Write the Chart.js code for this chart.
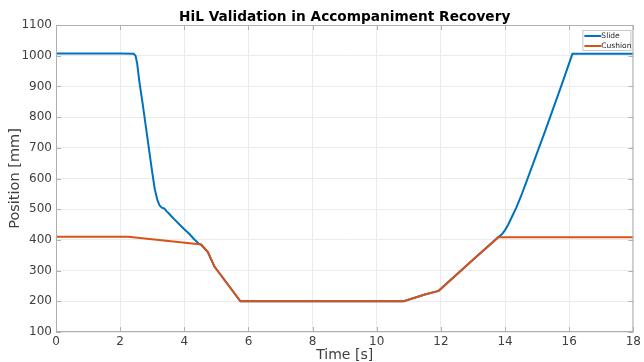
<!DOCTYPE html>
<html>
<head>
<meta charset="utf-8">
<script src="https://cdn.jsdelivr.net/npm/chart.js@4/dist/chart.umd.min.js"></script>
<style>
  html, body { margin: 0; padding: 0; background: #fff; }
  #wrap { width: 644px; height: 362px; }
</style>
</head>
<body>
<div id="wrap"><canvas id="hilChart" width="644" height="362"></canvas></div>
<script>
// data
const slideTime   = [0, 2.0, 2.42, 2.48, 2.53, 2.6, 2.7, 2.8, 2.9, 3.0, 3.08, 3.16, 3.23, 3.3, 3.38, 3.45, 3.52, 3.59, 3.7, 3.85, 4.0, 4.16, 4.3, 4.47, 4.52, 4.73, 4.94, 5.75, 8, 10.84, 11.5, 11.93, 13.0, 13.79, 13.9, 14.0, 14.1, 14.2, 14.35, 14.5, 14.65, 15.24, 15.75, 16.1, 18];
const slideValues = [1007, 1007, 1006, 1000, 975, 915, 845, 770, 695, 620, 565, 530, 512, 505, 502, 493, 486, 478, 466, 450, 435, 419, 403, 386, 385, 361, 313, 200, 200, 200, 222, 234, 335, 409, 418, 432, 450, 472, 505, 543, 585, 752, 901, 1006, 1006];
const cushionTime   = [0, 2.25, 4.47, 4.52, 4.73, 4.94, 5.75, 8, 10.84, 11.5, 11.93, 13.0, 13.79, 18];
const cushionValues = [410, 410, 386, 385, 361, 313, 200, 200, 200, 222, 234, 335, 409, 409];
const xTicks = { min: 0, max: 18, step: 2 };
const yTicks = { min: 100, max: 1100, step: 100 };
const chartTitle = 'HiL Validation in Accompaniment Recovery';

function toPoints(xs, ys) {
  return xs.map((x, i) => ({ x: x, y: ys[i] }));
}

const axisColor = '#b0b0b0';
const textColor = '#404040';

// title centred over the axes (not the canvas), like MATLAB does
const axesTitle = {
  id: 'axesTitle',
  afterDraw(chart) {
    const { ctx, chartArea: a } = chart;
    ctx.save();
    ctx.font = 'bold 13.7px "DejaVu Sans"';
    ctx.fillStyle = '#000';
    ctx.textAlign = 'center';
    ctx.textBaseline = 'alphabetic';
    ctx.fillText(chartTitle, (a.left + a.right) / 2, 21);
    ctx.restore();
  }
};

// inward ticks on all four sides plus the box
const boxTicks = {
  id: 'boxTicks',
  afterDraw(chart) {
    const { ctx, chartArea: a, scales } = chart;
    ctx.save();
    ctx.strokeStyle = axisColor;
    ctx.lineWidth = 1;
    ctx.strokeRect(a.left + 0.5, a.top + 0.5, a.right - a.left - 1, a.bottom - a.top - 1);
    ctx.beginPath();
    scales.x.ticks.forEach(t => {
      const px = Math.round(scales.x.getPixelForValue(t.value)) + 0.5;
      ctx.moveTo(px, a.bottom); ctx.lineTo(px, a.bottom - 5);
      ctx.moveTo(px, a.top); ctx.lineTo(px, a.top + 5);
    });
    scales.y.ticks.forEach(t => {
      const py = Math.round(scales.y.getPixelForValue(t.value)) + 0.5;
      ctx.moveTo(a.left, py); ctx.lineTo(a.left + 5, py);
      ctx.moveTo(a.right, py); ctx.lineTo(a.right - 5, py);
    });
    ctx.stroke();
    ctx.restore();
  }
};

// boxed legend inside the top right corner
const boxLegend = {
  id: 'boxLegend',
  afterDraw(chart) {
    const { ctx, chartArea: a } = chart;
    const sets = chart.data.datasets;
    const w = 48, h = 20;
    const x0 = a.right - w - 3, y0 = a.top + 5;
    ctx.save();
    ctx.fillStyle = '#fff';
    ctx.fillRect(x0, y0, w, h);
    ctx.strokeStyle = '#c8c8c8';
    ctx.lineWidth = 1;
    ctx.strokeRect(x0 + 0.5, y0 + 0.5, w, h);
    ctx.font = '7.5px "DejaVu Sans"';
    ctx.textBaseline = 'middle';
    sets.forEach((ds, i) => {
      const yy = y0 + 6 + i * 10;
      ctx.strokeStyle = ds.borderColor;
      ctx.lineWidth = 2;
      ctx.beginPath();
      ctx.moveTo(x0 + 2, yy); ctx.lineTo(x0 + 19, yy);
      ctx.stroke();
      ctx.fillStyle = '#222';
      ctx.fillText(ds.label, x0 + 19, yy);
    });
    ctx.restore();
  }
};

const plainNumber = v => String(v);

new Chart(document.getElementById('hilChart').getContext('2d'), {
  type: 'line',
  data: {
    datasets: [{
      label: 'Slide',
      data: toPoints(slideTime, slideValues),
      borderColor: '#0072BD',
      borderWidth: 2,
      pointRadius: 0,
      tension: 0,
      order: 1,
      fill: false
    }, {
      label: 'Cushion',
      data: toPoints(cushionTime, cushionValues),
      borderColor: '#D95319',
      borderWidth: 2,
      pointRadius: 0,
      tension: 0,
      order: 0,
      fill: false
    }]
  },
  options: {
    responsive: false,
    animation: false,
    layout: { padding: { left: 0, right: 8, top: 25, bottom: 0 } },
    plugins: {
      legend: { display: false },
      tooltip: { enabled: false },
      title: { display: false }
    },
    scales: {
      x: {
        type: 'linear',
        min: xTicks.min,
        max: xTicks.max,
        ticks: { stepSize: xTicks.step, color: textColor, padding: 3, callback: plainNumber, font: { family: '"DejaVu Sans"', size: 12 } },
        grid: { color: '#ebebeb', drawTicks: false, tickLength: 0 },
        border: { display: false },
        title: { display: true, text: 'Time [s]', color: textColor, font: { family: '"DejaVu Sans"', size: 14, lineHeight: 1 }, padding: { top: 0, bottom: 0 } },
        afterFit(s) { s.height = 30; }
      },
      y: {
        min: yTicks.min,
        max: yTicks.max,
        ticks: { stepSize: yTicks.step, color: textColor, padding: 4, callback: plainNumber, font: { family: '"DejaVu Sans"', size: 12 } },
        grid: { color: '#ebebeb', drawTicks: false, tickLength: 0 },
        border: { display: false },
        title: { display: true, text: 'Position [mm]', color: textColor, font: { family: '"DejaVu Sans"', size: 14.5 }, padding: { top: 7, bottom: 0 } },
        afterFit(s) { s.width = 56; }
      }
    }
  },
  plugins: [axesTitle, boxTicks, boxLegend]
});
</script>
</body>
</html>
